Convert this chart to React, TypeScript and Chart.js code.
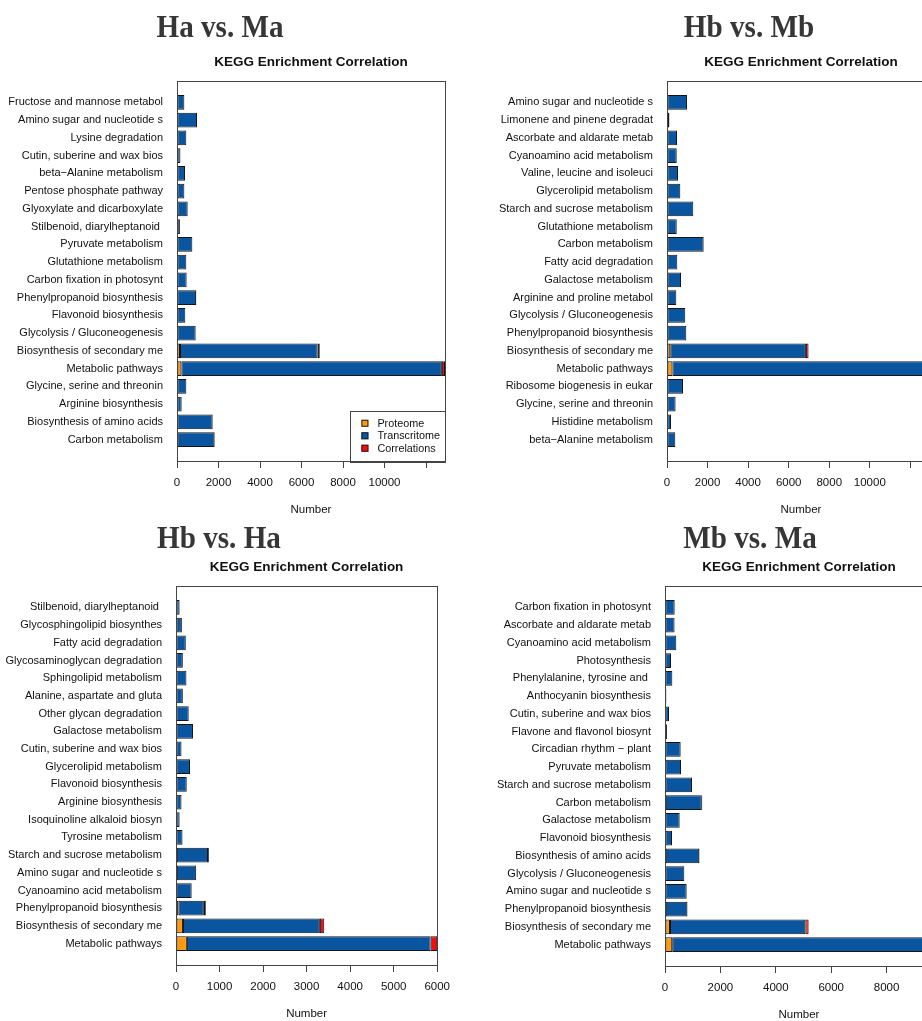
import React, { useEffect, useRef } from 'react';
import { Chart, registerables } from 'chart.js';
Chart.register(...registerables);

const FONT = '"Liberation Sans", Arial, Helvetica, sans-serif';
const seriesNames = ['Proteome', 'Transcritome', 'Correlations'];
const seriesColors = ['#FF9A10', '#0A55A0', '#FF0A0A'];
const subtitleText = 'KEGG Enrichment Correlation';
const xAxisTitle = 'Number';

// ---------- Panel 1: Ha vs. Ma ----------
const title1 = 'Ha vs. Ma';
const cats1 = [
  'Fructose and mannose metabol', 'Amino sugar and nucleotide s', 'Lysine degradation',
  'Cutin, suberine and wax bios', 'beta\u2212Alanine metabolism', 'Pentose phosphate pathway',
  'Glyoxylate and dicarboxylate', 'Stilbenoid, diarylheptanoid ', 'Pyruvate metabolism',
  'Glutathione metabolism', 'Carbon fixation in photosynt', 'Phenylpropanoid biosynthesis',
  'Flavonoid biosynthesis', 'Glycolysis / Gluconeogenesis', 'Biosynthesis of secondary me',
  'Metabolic pathways', 'Glycine, serine and threonin', 'Arginine biosynthesis',
  'Biosynthesis of amino acids', 'Carbon metabolism',
];
const prot1 = [0, 0, 0, 0, 0, 0, 0, 0, 0, 0, 0, 15, 0, 0, 145, 210, 0, 0, 25, 30];
const trans1 = [355, 965, 450, 165, 385, 355, 515, 140, 740, 450, 465, 905, 400, 900, 6635, 12555, 450, 225, 1690, 1770];
const corr1 = [0, 0, 0, 0, 0, 0, 0, 0, 0, 0, 0, 15, 0, 0, 100, 150, 0, 0, 20, 30];
const xTicks1 = [0, 2000, 4000, 6000, 8000, 10000, 12000];
const xTickLabels1 = ['0', '2000', '4000', '6000', '8000', '10000', ''];

// ---------- Panel 2: Hb vs. Mb ----------
const title2 = 'Hb vs. Mb';
const cats2 = [
  'Amino sugar and nucleotide s', 'Limonene and pinene degradat', 'Ascorbate and aldarate metab',
  'Cyanoamino acid metabolism', 'Valine, leucine and isoleuci', 'Glycerolipid metabolism',
  'Starch and sucrose metabolism', 'Glutathione metabolism', 'Carbon metabolism',
  'Fatty acid degradation', 'Galactose metabolism', 'Arginine and proline metabol',
  'Glycolysis / Gluconeogenesis', 'Phenylpropanoid biosynthesis', 'Biosynthesis of secondary me',
  'Metabolic pathways', 'Ribosome biogenesis in eukar', 'Glycine, serine and threonin',
  'Histidine metabolism', 'beta\u2212Alanine metabolism',
];
const prot2 = [0, 0, 0, 0, 0, 0, 0, 0, 30, 0, 0, 0, 0, 0, 160, 265, 0, 0, 0, 0];
const trans2 = [985, 120, 493, 480, 542, 656, 1297, 480, 1770, 508, 690, 459, 902, 951, 6690, 12800, 789, 424, 197, 409];
const corr2 = [0, 0, 0, 0, 0, 0, 0, 0, 25, 0, 0, 0, 0, 0, 130, 150, 0, 0, 0, 0];
const xTicks2 = [0, 2000, 4000, 6000, 8000, 10000, 12000];
const xTickLabels2 = ['0', '2000', '4000', '6000', '8000', '10000', ''];

// ---------- Panel 3: Hb vs. Ha ----------
const title3 = 'Hb vs. Ha';
const cats3 = [
  'Stilbenoid, diarylheptanoid ', 'Glycosphingolipid biosynthes', 'Fatty acid degradation',
  'Glycosaminoglycan degradation', 'Sphingolipid metabolism', 'Alanine, aspartate and gluta',
  'Other glycan degradation', 'Galactose metabolism', 'Cutin, suberine and wax bios',
  'Glycerolipid metabolism', 'Flavonoid biosynthesis', 'Arginine biosynthesis',
  'Isoquinoline alkaloid biosyn', 'Tyrosine metabolism', 'Starch and sucrose metabolism',
  'Amino sugar and nucleotide s', 'Cyanoamino acid metabolism', 'Phenylpropanoid biosynthesis',
  'Biosynthesis of secondary me', 'Metabolic pathways',
];
const prot3 = [0, 0, 0, 0, 0, 0, 0, 0, 0, 0, 0, 0, 0, 0, 20, 20, 15, 60, 160, 250];
const trans3 = [83, 135, 225, 157, 240, 157, 292, 390, 127, 322, 247, 127, 83, 150, 715, 444, 345, 580, 3145, 5600];
const corr3 = [0, 0, 0, 0, 0, 0, 0, 0, 0, 0, 0, 0, 0, 0, 20, 0, 0, 45, 100, 150];
const xTicks3 = [0, 1000, 2000, 3000, 4000, 5000, 6000];
const xTickLabels3 = ['0', '1000', '2000', '3000', '4000', '5000', '6000'];

// ---------- Panel 4: Mb vs. Ma ----------
const title4 = 'Mb vs. Ma';
const cats4 = [
  'Carbon fixation in photosynt', 'Ascorbate and aldarate metab', 'Cyanoamino acid metabolism',
  'Photosynthesis', 'Phenylalanine, tyrosine and ', 'Anthocyanin biosynthesis',
  'Cutin, suberine and wax bios', 'Flavone and flavonol biosynt', 'Circadian rhythm \u2212 plant',
  'Pyruvate metabolism', 'Starch and sucrose metabolism', 'Carbon metabolism',
  'Galactose metabolism', 'Flavonoid biosynthesis', 'Biosynthesis of amino acids',
  'Glycolysis / Gluconeogenesis', 'Amino sugar and nucleotide s', 'Phenylpropanoid biosynthesis',
  'Biosynthesis of secondary me', 'Metabolic pathways',
];
const prot4 = [0, 0, 0, 0, 0, 0, 0, 0, 0, 0, 0, 30, 0, 0, 30, 0, 0, 30, 180, 260];
const trans4 = [350, 345, 408, 217, 265, 50, 144, 70, 566, 578, 975, 1300, 530, 253, 1205, 697, 783, 775, 4885, 9265];
const corr4 = [0, 0, 0, 0, 0, 0, 0, 0, 0, 0, 0, 17, 0, 0, 17, 0, 0, 14, 120, 150];
const xTicks4 = [0, 2000, 4000, 6000, 8000, 10000];
const xTickLabels4 = ['0', '2000', '4000', '6000', '8000', '10000'];

type PanelCfg = {
  title: string;
  cats: string[];
  series: number[][];
  xTicks: number[];
  xTickLabels: string[];
  legend: boolean;
  left: number; top: number; w: number; h: number;
  yW: number; padTop: number;
  titleCx: number; titleTop: number;
};

const panels: PanelCfg[] = [
  { title: title1, cats: cats1, series: [prot1, trans1, corr1], xTicks: xTicks1, xTickLabels: xTickLabels1, legend: true,
    left: 0, top: 0, w: 460, h: 517, yW: 177, padTop: 81, titleCx: 219.7, titleTop: 9.5 },
  { title: title2, cats: cats2, series: [prot2, trans2, corr2], xTicks: xTicks2, xTickLabels: xTickLabels2, legend: false,
    left: 490, top: 0, w: 460, h: 517, yW: 177, padTop: 81, titleCx: 749.3, titleTop: 10.3 },
  { title: title3, cats: cats3, series: [prot3, trans3, corr3], xTicks: xTicks3, xTickLabels: xTickLabels3, legend: false,
    left: 0, top: 510, w: 458, h: 511, yW: 176, padTop: 76, titleCx: 219.2, titleTop: 521.2 },
  { title: title4, cats: cats4, series: [prot4, trans4, corr4], xTicks: xTicks4, xTickLabels: xTickLabels4, legend: false,
    left: 488, top: 510, w: 460, h: 512, yW: 177, padTop: 76, titleCx: 749.8, titleTop: 520.7 },
];

const framePlugin = {
  id: 'frameBox',
  afterDatasetsDraw(chart: any) {
    const { ctx, chartArea: a } = chart;
    ctx.save();
    ctx.strokeStyle = '#444';
    ctx.lineWidth = 1;
    ctx.strokeRect(Math.round(a.left) + 0.5, Math.round(a.top) + 0.5, Math.round(a.right - a.left), Math.round(a.bottom - a.top));
    ctx.restore();
  },
};

const subtitlePlugin = {
  id: 'keggSubtitle',
  afterDraw(chart: any) {
    const { ctx, chartArea: a } = chart;
    ctx.save();
    ctx.font = `bold 13.5px ${FONT}`;
    ctx.fillStyle = '#111';
    ctx.textAlign = 'center';
    ctx.textBaseline = 'alphabetic';
    ctx.fillText(subtitleText, (a.left + a.right) / 2, a.top - 15.5);
    ctx.restore();
  },
};

const legendPlugin = {
  id: 'rLegend',
  afterDraw(chart: any) {
    const opts = chart.options.plugins.rLegend;
    if (!opts || !opts.show) return;
    const { ctx, chartArea: a } = chart;
    const ds = chart.data.datasets;
    ctx.save();
    ctx.font = `10.8px ${FONT}`;
    const maxW = Math.max(...ds.map((d: any) => ctx.measureText(d.label).width));
    const padL = 11, sym = 7, gap = 9, padR = 5, rowH = 12.5, padT = 6.5;
    const w = padL + sym + gap + maxW + padR;
    const h = padT * 2 + rowH * ds.length;
    const x0 = a.right - w;
    const y0 = a.bottom - h;
    ctx.fillStyle = '#fff';
    ctx.fillRect(x0, y0, w, h);
    ctx.strokeStyle = '#444';
    ctx.lineWidth = 1;
    ctx.strokeRect(Math.round(x0) + 0.5, Math.round(y0) + 0.5, Math.round(w), Math.round(h));
    ds.forEach((d: any, i: number) => {
      const cy = y0 + padT + rowH * (i + 0.5);
      ctx.fillStyle = d.backgroundColor;
      ctx.fillRect(x0 + padL, cy - sym / 2, sym, sym);
      ctx.strokeStyle = '#222';
      ctx.strokeRect(x0 + padL + 0.5, cy - sym / 2 + 0.5, sym - 1, sym - 1);
      ctx.fillStyle = '#111';
      ctx.textAlign = 'left';
      ctx.textBaseline = 'middle';
      ctx.fillText(d.label, x0 + padL + sym + gap, cy + 0.5);
    });
    ctx.restore();
  },
};

function Panel({ cfg }: { cfg: PanelCfg }) {
  const ref = useRef<HTMLCanvasElement>(null);
  useEffect(() => {
    const n = cfg.cats.length;
    const totals = cfg.cats.map((_, i) => cfg.series.reduce((s, arr) => s + arr[i], 0));
    const xMax = Math.max(...totals);
    const half = 1.21;
    const chart = new Chart(ref.current as HTMLCanvasElement, {
      type: 'bar',
      data: {
        datasets: seriesNames.map((name, s) => ({
          label: name,
          data: cfg.cats.map((_, i) => ({ x: cfg.series[s][i], y: i })),
          backgroundColor: seriesColors[s],
          borderColor: '#141414',
          borderWidth: 1,
          borderSkipped: false,
          barPercentage: 1 / 1.2,
          categoryPercentage: 1,
        })),
      },
      options: {
        indexAxis: 'y',
        responsive: false,
        animation: false,
        events: [],
        layout: { padding: { top: cfg.padTop, right: 15, bottom: 0, left: 0 } },
        plugins: {
          legend: { display: false },
          tooltip: { enabled: false },
          title: { display: false },
          rLegend: { show: cfg.legend },
        } as any,
        scales: {
          x: {
            type: 'linear',
            position: 'bottom',
            stacked: true,
            min: 0,
            max: xMax,
            bounds: 'data',
            afterBuildTicks: (s: any) => {
              s.ticks = cfg.xTicks.filter((v) => v <= xMax).map((v) => ({ value: v }));
            },
            ticks: {
              autoSkip: false,
              maxRotation: 0,
              minRotation: 0,
              padding: 8,
              color: '#111',
              font: { family: FONT, size: 11.5 },
              callback: (v: any) => {
                const k = cfg.xTicks.indexOf(Number(v));
                return k >= 0 ? cfg.xTickLabels[k] : '';
              },
            },
            grid: { display: true, drawOnChartArea: false, drawTicks: true, tickLength: 7, color: '#444', lineWidth: 1 },
            border: { display: true, color: '#444', width: 1 },
            title: { display: true, text: xAxisTitle, color: '#111', font: { family: FONT, size: 11.5 }, padding: 0 },
            afterFit: (s: any) => { s.height = 56; },
          },
          y: {
            type: 'linear',
            reverse: true,
            stacked: true,
            offset: false,
            bounds: 'data',
            min: -half,
            max: n - 1 + half,
            afterBuildTicks: (s: any) => {
              s.ticks = cfg.cats.map((_, i) => ({ value: i }));
            },
            ticks: {
              autoSkip: false,
              padding: 14,
              color: '#111',
              font: { family: FONT, size: 11 },
              callback: (v: any) => cfg.cats[Number(v)] ?? '',
            },
            grid: { display: false, drawTicks: false },
            border: { display: false },
            afterFit: (s: any) => { s.width = cfg.yW; },
          },
        } as any,
      },
      plugins: [framePlugin, subtitlePlugin, legendPlugin],
    } as any);
    return () => chart.destroy();
  }, []);
  return (
    <canvas
      ref={ref}
      width={cfg.w}
      height={cfg.h}
      style={{ position: 'absolute', left: cfg.left, top: cfg.top, width: cfg.w, height: cfg.h }}
    />
  );
}

export default function App() {
  return (
    <div style={{ position: 'fixed', left: 0, top: 0, width: 922, height: 1021, overflow: 'hidden', background: '#fff' }}>
      {panels.map((p, i) => (
        <Panel key={i} cfg={p} />
      ))}
      {panels.map((p, i) => (
        <div
          key={'t' + i}
          style={{
            position: 'absolute',
            left: p.titleCx - 150,
            top: p.titleTop,
            width: 300,
            textAlign: 'center',
            font: 'bold 32px "Liberation Serif", "Times New Roman", serif',
            lineHeight: '32px',
            color: '#363636',
            whiteSpace: 'nowrap',
            transform: 'scaleX(0.91)',
            transformOrigin: 'center',
          }}
        >
          {p.title}
        </div>
      ))}
    </div>
  );
}
